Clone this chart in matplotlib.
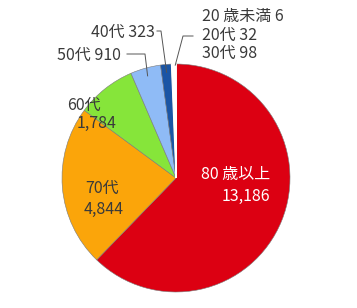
import numpy as np
import matplotlib
matplotlib.use("Agg")
import matplotlib.pyplot as plt

plt.rcParams['font.family'] = ['Noto Sans CJK JP', 'DejaVu Sans']

# Age groups, clockwise from 12 o'clock
groups = ["80 歳以上", "70代", "60代", "50代", "40代", "30代", "20代", "20 歳未満"]
counts = [13186, 4844, 1784, 910, 323, 98, 32, 6]
colors = ["#DC0012", "#FBA50A", "#86E53A", "#8FBBF6", "#1A55A5", "#FFFFFF", "#FFFFFF", "#FFFFFF"]

W, H = 357, 308
CX, CY, R = 176, 178, 114  # pie centre / radius in pixels


def px(x, y):
    """pixel position -> data coords (pie radius = 1)"""
    return (x - CX) / R, (CY - y) / R


fig = plt.figure(figsize=(W / 100, H / 100), dpi=100)
ax = fig.add_axes([0, 0, 1, 1])

wedges, _ = ax.pie(counts, colors=colors, startangle=90, counterclock=False,
                   radius=1, center=(0, 0),
                   wedgeprops=dict(edgecolor="#7a7a7a", linewidth=0.4))
# the white slivers get a white outline
for w in wedges[5:]:
    w.set_edgecolor("white")
    w.set_linewidth(0.8)

ax.set_xlim(-CX / R, (W - CX) / R)
ax.set_ylim((CY - H) / R, CY / R)
ax.set_aspect("equal")
ax.axis("off")


def fmt(v):
    return f"{v:,}"


txt = "#3a3a3a"
fs = 11.5

# labels inside the large slices
x, y = px(270, 175)
ax.text(x, y, f"{groups[0]}", color="white", fontsize=fs, ha="right", va="center")
x, y = px(270, 196)
ax.text(x, y, fmt(counts[0]), color="white", fontsize=fs, ha="right", va="center")

x, y = px(102, 188)
ax.text(x, y, groups[1], color=txt, fontsize=fs, ha="center", va="center")
x, y = px(104, 209)
ax.text(x, y, fmt(counts[1]), color=txt, fontsize=fs, ha="center", va="center")

x, y = px(84, 105)
ax.text(x, y, groups[2], color=txt, fontsize=fs, ha="center", va="center")
x, y = px(97, 123)
ax.text(x, y, fmt(counts[2]), color=txt, fontsize=fs, ha="center", va="center")

# outside labels with leader lines
total = sum(counts)
cum = np.cumsum([0] + counts)


def mid_angle(i):
    frac = (cum[i] + cum[i + 1]) / 2 / total
    return np.deg2rad(90 - 360 * frac)


def anchor(i, r=0.93):
    a = mid_angle(i)
    return r * np.cos(a), r * np.sin(a)

lc = "#555555"
# 50代
x, y = px(121, 55)
ax.text(x, y, f"{groups[3]} {fmt(counts[3])}", color=txt, fontsize=fs, ha="right", va="center")
ax0, ay0 = anchor(3)
ex, ey = px(145, 54)
sx, sy = px(127, 54)
ax.plot([sx, ex, ax0], [sy, ey, ay0], color=lc, lw=0.7)

# 40代
x, y = px(155, 32)
ax.text(x, y, f"{groups[4]} {fmt(counts[4])}", color=txt, fontsize=fs, ha="right", va="center")
ax0, ay0 = anchor(4)
ex, ey = px(161, 31)
sx, sy = px(157, 31)
ax.plot([sx, ex, ax0], [sy, ey, ay0], color=lc, lw=0.7)

# small groups share one leader
ax0, ay0 = anchor(6, 0.99)
ex, ey = px(183, 36)
sx, sy = px(193, 36)
ax.plot([sx, ex, ax0], [sy, ey, ay0], color=lc, lw=0.7)
for i, yy in zip([7, 6, 5], [17, 35, 53]):
    x, y = px(202, yy)
    ax.text(x, y, f"{groups[i]} {counts[i]}", color=txt, fontsize=fs, ha="left", va="center")

fig.savefig("out.png", dpi=100, facecolor="white")
